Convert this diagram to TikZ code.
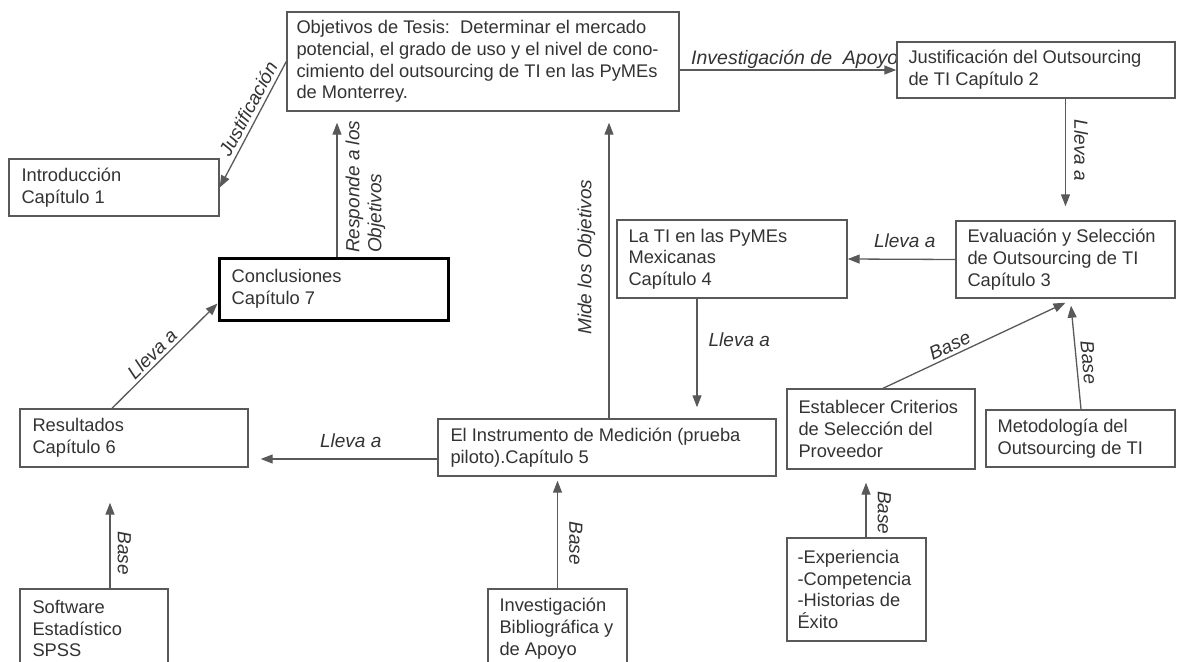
\documentclass[tikz,border=0pt]{standalone}
\usepackage{fontspec}
\setmainfont{Liberation Sans}
\usetikzlibrary{arrows.meta,calc}
\begin{document}
\begin{tikzpicture}[x=1pt,y=-1pt,
 box/.style={draw=black!65, line width=1.4pt, fill=white, inner sep=0pt},
 thickbox/.style={draw=black, line width=3pt, fill=white, inner sep=0pt},
 txt/.style={align=left, inner sep=0pt, anchor=west, text=black!80, font=\fontsize{18.3}{21.7}\selectfont},
 lbl/.style={font=\fontsize{19}{22}\selectfont\itshape, text=black!80, inner sep=1pt},
 conn/.style={draw=black!65, line width=1.3pt, -{Triangle[length=12pt,width=9pt]}}]
\useasboundingbox (0,0) rectangle (1180,661);

% label drawn first so that the box covers its end
\node[lbl, anchor=base west, font=\fontsize{19.5}{22}\selectfont\itshape] (labinv) at (690,65) {Investigación de\ \ Apoyo};

% boxes
\node[box, minimum width=392pt, minimum height=99pt] (obj) at (483,61.5) {};
\node[txt] (objt) at ([xshift=10pt]obj.west) {Objetivos de Tesis:\ \ Determinar el mercado\\potencial, el grado de uso y el nivel de cono-\\cimiento del outsourcing de TI en las PyMEs\\de Monterrey.};

\node[box, minimum width=278pt, minimum height=56pt] (just2) at (1036,70) {};
\node[txt] (just2t) at ([xshift=12pt]just2.west) {Justificación del Outsourcing\\de TI Capítulo 2};

\node[box, minimum width=210pt, minimum height=57pt] (intro) at (114,187.5) {};
\node[txt] (introt) at ([xshift=13pt]intro.west) {Introducción\\Capítulo 1};

\node[thickbox, minimum width=229pt, minimum height=62pt] (concl) at (333.5,289) {};
\node[txt] (conclt) at ([xshift=14pt]concl.west) {Conclusiones\\Capítulo 7};

\node[box, minimum width=230pt, minimum height=78pt] (cap4) at (732,259) {};
\node[txt] (cap4t) at ([xshift=12pt]cap4.west) {La TI en las PyMEs\\Mexicanas\\Capítulo 4};

\node[box, minimum width=219pt, minimum height=77pt] (cap3) at (1065.5,259.5) {};
\node[txt] (cap3t) at ([xshift=12pt]cap3.west) {Evaluación y Selección\\de Outsourcing de TI\\Capítulo 3};

\node[box, minimum width=188pt, minimum height=80pt] (estab) at (881,429) {};
\node[txt] (estabt) at ([xshift=12pt]estab.west) {Establecer Criterios\\de Selección del\\Proveedor};

\node[box, minimum width=189pt, minimum height=57pt] (metod) at (1080.5,438.5) {};
\node[txt] (metodt) at ([xshift=12pt]metod.west) {Metodología del\\Outsourcing de TI};

\node[box, minimum width=139pt, minimum height=103pt] (exper) at (856.5,589.5) {};
\node[txt] (expert) at ([xshift=11pt]exper.west) {-Experiencia\\-Competencia\\-Historias de\\Éxito};

\node[box, minimum width=228pt, minimum height=58pt] (result) at (134,438) {};
\node[txt] (resultt) at ([xshift=13pt]result.west) {Resultados\\Capítulo 6};

\node[box, minimum width=338pt, minimum height=57pt] (instr) at (607,447.5) {};
\node[txt] (instrt) at ([xshift=13pt]instr.west) {El Instrumento de Medición (prueba\\piloto).Capítulo 5};

\node[box, minimum width=148pt, minimum height=79pt] (softw) at (94,628.5) {};
\node[txt] (softwt) at ([xshift=13pt]softw.west) {Software\\Estadístico\\SPSS};

\node[box, minimum width=139pt, minimum height=79pt] (invest) at (557.5,628.5) {};
\node[txt] (investt) at ([xshift=12pt]invest.west) {Investigación\\Bibliográfica y\\de Apoyo};

% connectors
\draw[conn] (obj.west) -- node[lbl, sloped, above=3pt, pos=0.42] (lj) {Justificación} (intro.east);

\draw[conn] (just2.west -| obj.east) -- (just2.west);

\draw[conn] (cap3.north |- just2.south) -- node[lbl, rotate=-90, anchor=south, inner ysep=8pt, pos=0.48] (ll1) {Lleva a} ($(cap3.north)+(0,-14)$);

\draw[conn] (cap3.west) -- node[lbl, above=10pt, pos=0.47] (ll2) {Lleva a} (cap4.east);

\draw[conn] ($(cap4.south)+(-35,0)$) -- node[lbl, right=10pt, pos=0.38] (ll3) {Lleva a} ($(cap4.south |- instr.north)+(-35,-11)$);

\draw[conn] ($(instr.north)+(2,0)$) -- node[lbl, rotate=90, anchor=south, inner ysep=13pt, pos=0.545] (lm) {Mide los Objetivos} ($(instr.north |- obj.south)+(2,11)$);

\draw[conn] ($(concl.north)+(3.5,0)$) -- node[lbl, rotate=90, anchor=north west, inner xsep=3pt, inner ysep=8pt, pos=0, align=left] (lr) {Responde a los\\Objetivos} ($(concl.north |- obj.south)+(3.5,11)$);

\draw[conn] ($(result.north)+(-22,0)$) -- node[lbl, sloped, above=2pt, pos=0.45] (ll4) {Lleva a} ($(concl.south west)+(0,-18)$);

\draw[conn] ($(instr.west)+(0,11.5)$) -- node[lbl, above=10pt, pos=0.49] (ll5) {Lleva a} ($(result.east |- instr.west)+(12,11.5)$);

\draw[conn] ($(softw.north)+(16,0)$) -- node[lbl, rotate=-90, anchor=south, inner ysep=7pt, pos=0.41] (lb1) {Base} ($(softw.north |- result.south)+(16,35)$);

\draw[conn] (invest.north) -- node[lbl, rotate=-90, anchor=south, inner ysep=11pt, pos=0.42] (lb2) {Base} ($(invest.north |- instr.south)+(0,4)$);

\draw[conn] ($(estab.north)+(2,0)$) -- node[lbl, sloped, above=2pt, pos=0.39] (lb3) {Base} ($(cap3.south)+(0,4)$);

\draw[conn] ($(metod.north)+(0.5,0)$) -- node[lbl, sloped, above=4pt, pos=0.44] (lb4) {Base} ($(cap3.south)+(5.5,7)$);

\draw[conn] ($(exper.north)+(9.5,0)$) -- node[lbl, rotate=-90, anchor=south, inner ysep=11pt, pos=0.45] (lb5) {Base} ($(exper.north |- estab.south)+(9.5,13)$);
\end{tikzpicture}
\end{document}
